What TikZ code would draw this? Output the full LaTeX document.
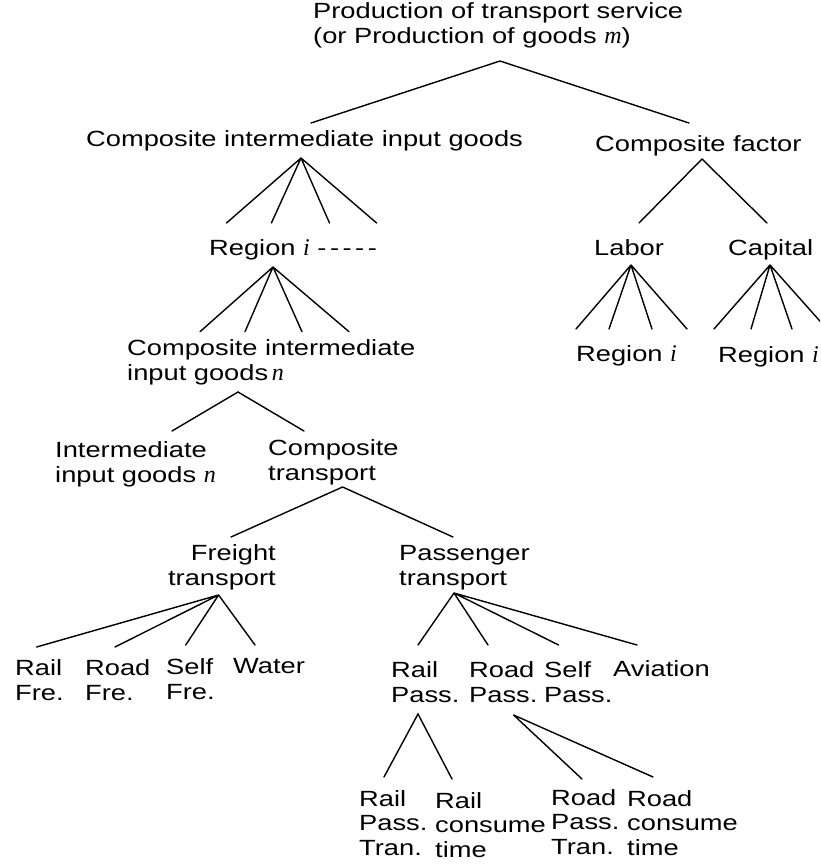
\documentclass[tikz,border=0pt]{standalone}
\usepackage{fontspec}
\setmainfont{Liberation Sans}[FakeStretch=1.24]
\newfontfamily\varfont{Liberation Serif}
\newcommand{\vi}[1]{{\varfont\itshape\fontsize{24}{24.5}\selectfont #1}}
\newcommand{\dsh}{-\kern3.5pt}
\begin{document}
\begin{tikzpicture}[x=1pt,y=-1pt,
  lbl/.style={inner sep=0pt, anchor=base west, align=left, font=\fontsize{22}{24.5}\selectfont},
  conn/.style={line width=1.4pt, line cap=round}]
\useasboundingbox (0,0) rectangle (820,868);
\begin{scope}
\clip (0,0) rectangle (820,868);
% labels (multi-line labels are placed by the baseline of their last line)
\node[lbl] (top) at (313,43) {Production of transport service\\(or Production of goods \vi{m})};
\node[lbl] (cig) at (86,146) {Composite intermediate input goods};
\node[lbl] (cf) at (595,151) {Composite factor};
\node[lbl] (reg) at (209,255) {Region \vi{i} \dsh\dsh\dsh\dsh-};
\node[lbl] (lab) at (594,255) {Labor};
\node[lbl] (cap) at (728,255) {Capital};
\node[lbl] (rl) at (576,361) {Region \vi{i}};
\node[lbl] (rc) at (718,362) {Region \vi{i}};
\node[lbl] (cign) at (127,380) {Composite intermediate\\input goods\,\vi{n}};
\node[lbl] (iig) at (55,482) {Intermediate\\input goods \vi{n}};
\node[lbl] (ct) at (268,480) {Composite\\transport};
\node[lbl, align=right, anchor=base east] (ft) at (276,585) {Freight\\transport};
\node[lbl] (pt) at (399,585) {Passenger\\transport};
\node[lbl] (rf) at (15,700) {Rail\\Fre.};
\node[lbl] (rdf) at (85,700) {Road\\Fre.};
\node[lbl] (sf) at (166,699) {Self\\Fre.};
\node[lbl] (wa) at (233,673) {Water};
\node[lbl] (rp) at (391,702) {Rail\\Pass.};
\node[lbl] (rdp) at (469,702) {Road\\Pass.};
\node[lbl] (sp) at (544,702) {Self\\Pass.};
\node[lbl] (av) at (613,676) {Aviation};
\node[lbl] (rpt) at (359,855) {Rail\\Pass.\\Tran.};
\node[lbl] (rct) at (435,857) {Rail\\consume\\time};
\node[lbl] (rdpt) at (551,854) {Road\\Pass.\\Tran.};
\node[lbl] (rdct) at (627,855) {Road\\consume\\time};
% connector points
\coordinate (t0) at (500,61);
\coordinate (t1) at (311,123);
\coordinate (t2) at (689,123);
\coordinate (a0) at (301,158);
\coordinate (a1) at (226.5,223);
\coordinate (a2) at (271.4,223);
\coordinate (a3) at (329.5,223);
\coordinate (a4) at (376.6,223);
\coordinate (b0) at (702,159);
\coordinate (b1) at (639,223);
\coordinate (b2) at (767,223);
\coordinate (c0) at (273,267);
\coordinate (c1) at (200,331.7);
\coordinate (c2) at (245,331.7);
\coordinate (c3) at (302,331.7);
\coordinate (c4) at (349,331.7);
\coordinate (d0) at (631,265);
\coordinate (d1) at (576,329);
\coordinate (d2) at (609,329);
\coordinate (d3) at (652,329);
\coordinate (d4) at (687,329);
\coordinate (e0) at (770,265);
\coordinate (e1) at (714,329);
\coordinate (e2) at (751,329);
\coordinate (e3) at (792,329);
\coordinate (e4) at (827,329);
\coordinate (f0) at (238,392);
\coordinate (f1) at (172,431);
\coordinate (f2) at (304,431);
\coordinate (g0) at (342.6,487);
\coordinate (g1) at (231,537);
\coordinate (g2) at (453,537);
\coordinate (h0) at (218.6,595);
\coordinate (h1) at (36.6,647);
\coordinate (h2) at (115,647);
\coordinate (h3) at (185.7,645);
\coordinate (h4) at (255,645);
\coordinate (k0) at (454,593);
\coordinate (k1) at (418,645);
\coordinate (k2) at (488,645);
\coordinate (k3) at (558.6,645);
\coordinate (k4) at (637,645);
\coordinate (m0) at (418,714);
\coordinate (m1) at (384,777);
\coordinate (m2) at (452,779);
\coordinate (n0) at (513.6,715);
\coordinate (n1) at (582,779);
\coordinate (n2) at (653,777);
% connectors
\draw[conn] (t1) -- (t0) -- (t2);
\draw[conn] (a0) -- (a1) (a0) -- (a2) (a0) -- (a3) (a0) -- (a4);
\draw[conn] (b1) -- (b0) -- (b2);
\draw[conn] (c0) -- (c1) (c0) -- (c2) (c0) -- (c3) (c0) -- (c4);
\draw[conn] (d0) -- (d1) (d0) -- (d2) (d0) -- (d3) (d0) -- (d4);
\draw[conn] (e0) -- (e1) (e0) -- (e2) (e0) -- (e3) (e0) -- (e4);
\draw[conn] (f1) -- (f0) -- (f2);
\draw[conn] (g1) -- (g0) -- (g2);
\draw[conn] (h0) -- (h1) (h0) -- (h2) (h0) -- (h3) (h0) -- (h4);
\draw[conn] (k0) -- (k1) (k0) -- (k2) (k0) -- (k3) (k0) -- (k4);
\draw[conn] (m1) -- (m0) -- (m2);
\draw[conn] (n0) -- (n1) (n0) -- (n2);
\end{scope}
\end{tikzpicture}
\end{document}
